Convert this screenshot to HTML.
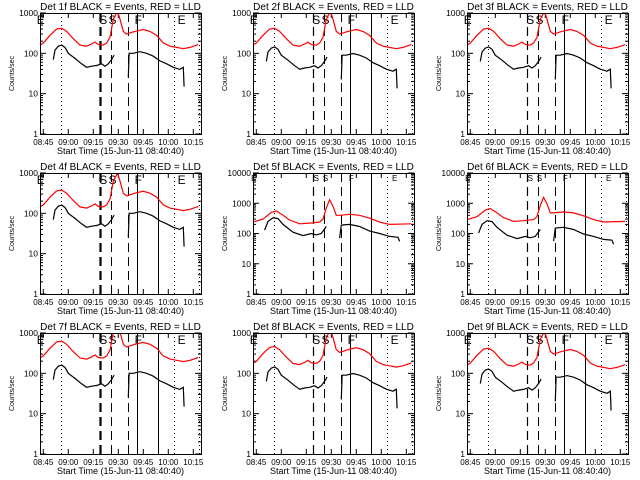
<!DOCTYPE html>
<html><head><meta charset="utf-8">
<style>
html,body{margin:0;padding:0;background:#fff;}
svg{display:block;font-family:"Liberation Sans",sans-serif;}
</style></head>
<body>
<svg id="chart" width="640" height="480" viewBox="0 0 640 480" xmlns="http://www.w3.org/2000/svg"></svg>
<script>
// ---- data ----
const panelNames = ["1f","2f","3f","4f","5f","6f","7f","8f","9f"];
const panelDecades = [3,3,3,3,4,4,3,3,3];
const panelProfile = ["A","A","A","A","B","B","A","A","A"];
const redScale = [1,1,1,0.9,1,1.2,1.5,1.1,1];
const blackScale = [1,0.9,0.9,1,1,0.8,1,0.9,0.8];
const xTickLabels = ["08:45","09:00","09:15","09:30","09:45","10:00","10:15"];
const xTickMinutes = [0,15,30,45,60,75,90];
const markerMinutes = [10.6,34,40.6,50.8,56.2,68.8,78.4,93.4];
const markerStyles = ["dot","dashbold","dash","dash","solid","solid","dot","dot"];
const markerLetters = ["E","S","S","F","E"];
const markerLetterMinutes = [-1.5,36,41.5,57,83];

const redTimesA = [-2,0,4,8,11,14,18,22,26,29,31,33,36,38,40,42,44.5,46,48,50,53,56,60,64,68,72,76,80,84,88,93];
const redValsA  = [160,180,280,400,420,350,230,160,150,170,190,165,160,180,250,700,1100,700,350,300,330,360,390,350,280,180,150,140,130,140,165];
const blk1TimesA = [6,7,9,11,13,15,19,23,26,29,32,35,37,39,41,42.5];
const blk1ValsA  = [70,120,150,160,140,100,75,55,45,48,50,55,48,55,70,90];
const blk2TimesA = [51,51.5,54,58,62,66,70,74,78,82,84,84.5];
const blk2ValsA  = [25,100,100,110,100,85,65,55,45,40,45,15];

const redTimesB = [-2,4,9,12,16,20,26,32,38,40,42,44,46,48,50,56,62,68,74,80,93];
const redValsB  = [240,300,500,560,400,280,210,220,240,300,700,1300,800,400,400,430,400,320,240,200,210];
const blk1TimesB = [5,7,10,13,16,22,28,33,36,39,42];
const blk1ValsB  = [130,250,330,310,200,110,85,100,90,100,170];
const blk2TimesB = [50,51,56,62,68,74,80,85,86];
const blk2ValsB  = [70,190,200,170,120,100,80,75,55];

// ---- layout ----
const colX = [40,253,467], rowY = [13,173,333];
const PW = 161, PH = 121;
const NS = "http://www.w3.org/2000/svg";
const svg = document.getElementById('chart');
function mk(tag, attrs, parent){
  const e = document.createElementNS(NS, tag);
  for (const k in attrs) e.setAttribute(k, attrs[k]);
  (parent||svg).appendChild(e); return e;
}

panelNames.forEach((nm, i) => {
  const x0 = colX[i%3], y0 = rowY[Math.floor(i/3)];
  const dec = panelDecades[i];
  const xs = m => x0 + 3.3 + (m) * 150/90;
  const ys = v => y0 + PH - Math.log10(v) / dec * PH;
  const g = mk('g', {});
  
  
  const cid = 'clip' + i;
  const cp = mk('clipPath', {id: cid}, g);
  mk('rect', {x:x0, y:y0, width:PW, height:PH}, cp);

  const t = mk('text', {x: x0+PW/2, y: y0-3, 'text-anchor':'middle', 'font-size':10}, g);
  t.textContent = 'Det ' + nm + ' BLACK = Events, RED = LLD';
  
  

  for (let d = 0; d <= dec; d++) {
    const y = y0 + PH - d/dec*PH;
    const lab = mk('text', {x: x0-2, y: y+3, 'text-anchor':'end', 'font-size':8.5}, g);
    lab.textContent = String(Math.pow(10,d));
    
    
    mk('line', {x1:x0, x2:x0+6, y1:y, y2:y, stroke:'#000'}, g);
    mk('line', {x1:x0+PW, x2:x0+PW-6, y1:y, y2:y, stroke:'#000'}, g);
    if (d < dec) for (let k = 2; k < 10; k++) {
      const yy = ys(Math.pow(10,d)*k);
      mk('line', {x1:x0, x2:x0+3, y1:yy, y2:yy, stroke:'#000'}, g);
      mk('line', {x1:x0+PW, x2:x0+PW-3, y1:yy, y2:yy, stroke:'#000'}, g);
    }
  }
  const yl = mk('text', {x: x0-26, y: y0+PH/2, 'text-anchor':'middle', 'font-size':7, transform:`rotate(-90 ${x0-26} ${y0+PH/2})`}, g);
  yl.textContent = 'Counts/sec';
  
  

  xTickMinutes.forEach((m, j) => {
    const x = xs(m);
    mk('line', {x1:x, x2:x, y1:y0+PH, y2:y0+PH-5, stroke:'#000'}, g);
    mk('line', {x1:x, x2:x, y1:y0, y2:y0+5, stroke:'#000'}, g);
    const lab = mk('text', {x:x, y:y0+PH+11, 'text-anchor':'middle', 'font-size':8}, g);
    lab.textContent = xTickLabels[j];
    
    
  });
  const xt = mk('text', {x: x0+PW/2, y: y0+PH+20, 'text-anchor':'middle', 'font-size':9}, g);
  xt.textContent = 'Start Time (15-Jun-11 08:40:40)';
  
  

  markerMinutes.forEach((m, j) => {
    const x = Math.round(xs(m)) + 0.5;
    const st = markerStyles[j];
    const a = {x1:x, x2:x, y1:y0, y2:y0+PH, stroke:'#000'};
    if (st === 'dot') { a['stroke-dasharray'] = '1,3'; }
    if (st === 'dash') { a['stroke-dasharray'] = '9,5'; }
    if (st === 'dashbold') { a['stroke-dasharray'] = '9,5'; a['stroke-width'] = (i%3===0)?2.2:1.2; }
    const l = mk('line', a, g);
    
    
  });
  markerLetters.forEach((L, j) => {
    const lt = mk('text', {x: xs(markerLetterMinutes[j]), y: y0 + (dec===4?8:11), 'font-size': dec===4?8:12, 'text-anchor':'middle'}, g);
    lt.textContent = L;
    
    
  });

  const A = panelProfile[i] === 'A';
  const rT = A ? redTimesA : redTimesB, rV = A ? redValsA : redValsB;
  const b1T = A ? blk1TimesA : blk1TimesB, b1V = A ? blk1ValsA : blk1ValsB;
  const b2T = A ? blk2TimesA : blk2TimesB, b2V = A ? blk2ValsA : blk2ValsB;
  const path = (T, V, s) => T.map((m,k) => (k?'L':'M') + xs(m).toFixed(1) + ',' + ys(V[k]*s).toFixed(1)).join(' ');
  const red = mk('path', {d: path(rT, rV, redScale[i]), fill:'none', stroke:'#ff0000', 'stroke-width':1.2, 'clip-path':`url(#${cid})`}, g);
  
  
  const b1 = mk('path', {d: path(b1T, b1V, blackScale[i]), fill:'none', stroke:'#000', 'stroke-width':1.2, 'clip-path':`url(#${cid})`}, g);
  
  
  const b2 = mk('path', {d: path(b2T, b2V, blackScale[i]), fill:'none', stroke:'#000', 'stroke-width':1.2, 'clip-path':`url(#${cid})`}, g);
  
  

  const fr = mk('rect', {x:x0+0.5, y:y0+0.5, width:PW, height:PH, fill:'none', stroke:'#000'}, g);
  
  
});
</script>
</body></html>
